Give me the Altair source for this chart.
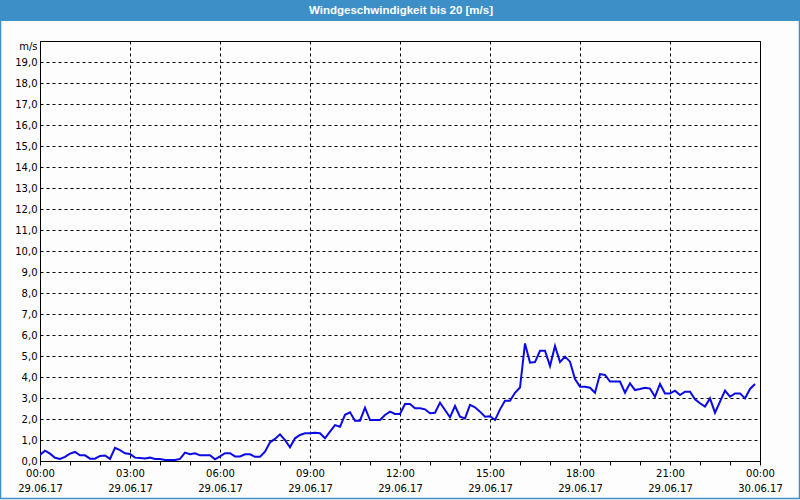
import altair as alt
import pandas as pd

# Wind speed readings (m/s), every 10 minutes from 29.06.17 00:00
speed = [
    0.29, 0.49, 0.35, 0.15, 0.10, 0.20, 0.35, 0.43, 0.27, 0.27,
    0.11, 0.11, 0.24, 0.26, 0.10, 0.63, 0.52, 0.37, 0.33, 0.16,
    0.14, 0.12, 0.16, 0.10, 0.10, 0.05, 0.05, 0.05, 0.10, 0.40,
    0.32, 0.37, 0.27, 0.27, 0.27, 0.08, 0.22, 0.37, 0.37, 0.22,
    0.22, 0.32, 0.32, 0.20, 0.20, 0.44, 0.89, 1.05, 1.27, 1.00,
    0.65, 1.08, 1.24, 1.32, 1.32, 1.35, 1.32, 1.08, 1.40, 1.71,
    1.63, 2.20, 2.32, 1.92, 1.92, 2.54, 1.95, 1.95, 1.95, 2.19,
    2.35, 2.24, 2.24, 2.71, 2.71, 2.51, 2.51, 2.46, 2.27, 2.30,
    2.78, 2.43, 2.08, 2.62, 2.11, 2.03, 2.67, 2.56, 2.35, 2.11,
    2.13, 1.95, 2.46, 2.87, 2.87, 3.25, 3.50, 5.60, 4.68, 4.71,
    5.25, 5.25, 4.52, 5.48, 4.71, 4.97, 4.73, 3.90, 3.54, 3.54,
    3.49, 3.25, 4.14, 4.10, 3.78, 3.78, 3.78, 3.25, 3.70, 3.38,
    3.43, 3.49, 3.45, 3.06, 3.67, 3.22, 3.22, 3.35, 3.14, 3.30,
    3.30, 2.94, 2.75, 2.59, 2.98, 2.30, 2.83, 3.35, 3.06, 3.22,
    3.22, 2.98, 3.43, 3.67,
]
times = pd.date_range("2017-06-29T00:00:00Z", periods=len(speed), freq="10min")
time_labels = [t.strftime("%Y-%m-%dT%H:%M:%SZ") for t in times]

y_ticks = list(range(0, 20))
title_text = "Windgeschwindigkeit bis 20 [m/s]"
unit_text = "m/s"

df = pd.DataFrame({"t": time_labels, "v": speed})

FONT = "DejaVu Sans"
BLUE = "#3c8fc7"

hour_ticks = [alt.DateTime(year=2017, month=6, date=29 + h // 24, hours=h % 24, utc=True) for h in range(0, 25)]

x_enc = alt.X(
    "t:T",
    scale=alt.Scale(type="utc", domain=[
        alt.DateTime(year=2017, month=6, date=29, hours=0, utc=True),
        alt.DateTime(year=2017, month=6, date=30, hours=0, utc=True)]),
    axis=alt.Axis(
        title=None,
        values=hour_ticks,
        labelExpr="utchours(datum.value) % 3 == 0 ? [utcFormat(datum.value, '%H:%M'), utcFormat(datum.value, '%d.%m.%y')] : ''",
        labelOverlap=False,
        labelBound=False,
        labelFlush=False,
        labelPadding=3,
        labelLineHeight=15,
        labelFontSize=10,
        labelFont=FONT,
        labelColor="#000000",
        tickSize=4,
        tickColor="#000000",
        domainColor="#000000",
        grid=True,
        gridColor="#000000",
        gridDash=[3, 3],
        gridOpacity={"condition": {"test": "utchours(datum.value) % 3 == 0", "value": 1}, "value": 0},
    ),
)

y_enc = alt.Y(
    "v:Q",
    scale=alt.Scale(domain=[0, 20], nice=False, zero=True),
    axis=alt.Axis(
        title=unit_text,
        titleAngle=0,
        titleAlign="right",
        titleBaseline="middle",
        titleX=-3,
        titleY=5,
        titleFont=FONT,
        titleFontSize=10,
        titleFontWeight="normal",
        titleColor="#000000",
        values=y_ticks,
        labelExpr="replace(format(datum.value, '.1f'), '.', ',')",
        labelFont=FONT,
        labelFontSize=10,
        labelColor="#000000",
        labelPadding=3,
        tickSize=0,
        domainColor="#000000",
        grid=True,
        gridColor="#000000",
        gridDash=[3, 3],
        gridOpacity=1,
    ),
)

line = alt.Chart(df).mark_line(color="#0a0ae6", strokeWidth=2, clip=True).encode(x=x_enc, y=y_enc)

one = alt.Data(values=[{"a": 1}])
title_bar = alt.Chart(one).mark_rect(color=BLUE).encode(
    x=alt.value(-40), x2=alt.value(760), y=alt.value(-41), y2=alt.value(-20)
)
title_txt = alt.Chart(one).mark_text(
    text=title_text, color="white", fontWeight="bold", fontSize=11.5, font="Liberation Sans",
    align="center", baseline="middle"
).encode(x=alt.value(361), y=alt.value(-30.5))
frame = alt.Chart(one).mark_rect(fill=None, stroke=BLUE, strokeWidth=1.5).encode(
    x=alt.value(-39.5), x2=alt.value(759.5), y=alt.value(-40.5), y2=alt.value(457.5)
)

chart = alt.layer(line, title_bar, title_txt, frame).properties(
    width=720, height=420,
    autosize=alt.AutoSizeParams(type="none"),
    padding={"left": 40, "top": 41, "right": 40, "bottom": 39},
    background="#fcfdfc",
).configure_view(stroke="#000000", strokeWidth=1)

chart.save("out.html", embed_options={"renderer": "svg", "actions": False})
